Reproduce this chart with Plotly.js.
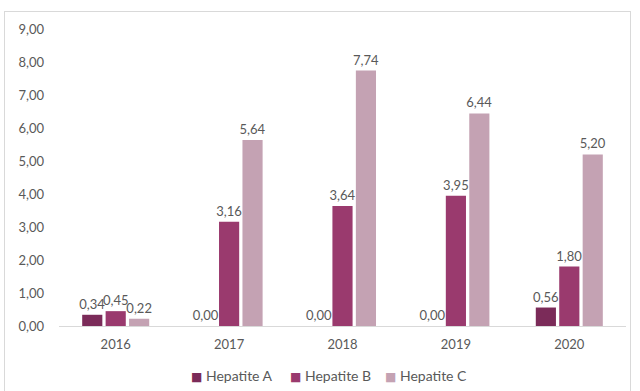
<!DOCTYPE html>
<html>
<head>
<meta charset="utf-8">
<script src="https://cdn.plot.ly/plotly-3.0.1.min.js"></script>
<style>
  html, body { margin: 0; padding: 0; background: #fff; }
  #frame { position: absolute; left: 4px; top: 11px; width: 627px; height: 400px; border: 1px solid #d9d9d9; box-sizing: border-box; }
  #chart { position: absolute; left: 0; top: 0; width: 640px; height: 391px; }
</style>
</head>
<body>
<div id="frame"></div>
<div id="chart"></div>
<script>
const years = ['2016', '2017', '2018', '2019', '2020'];
const seriesNames = ['Hepatite A', 'Hepatite B', 'Hepatite C'];
const hepatiteA = [0.34, 0.00, 0.00, 0.00, 0.56];
const hepatiteB = [0.45, 3.16, 3.64, 3.95, 1.80];
const hepatiteC = [0.22, 5.64, 7.74, 6.44, 5.20];
const yTicks = [0, 1, 2, 3, 4, 5, 6, 7, 8, 9];

const colors = ['#7b2b59', '#9a3a6e', '#c4a2b3'];
const labelFont = { family: 'Lato, "Open Sans", sans-serif', size: 13, color: '#595959' };
const fmt = v => v.toFixed(2).replace('.', ',');

function series(name, values, color) {
  return {
    type: 'bar', name: name, x: years, y: values,
    marker: { color: color },
    text: values.map(fmt),
    textposition: 'outside', cliponaxis: false, constraintext: 'none',
    textfont: labelFont, outsidetextfont: labelFont, insidetextfont: labelFont,
    hoverinfo: 'x+y+name'
  };
}

const data = [
  series(seriesNames[0], hepatiteA, colors[0]),
  series(seriesNames[1], hepatiteB, colors[1]),
  series(seriesNames[2], hepatiteC, colors[2])
];

// compact legend row below the axis, one entry per series
const legendX = [0.305, 0.478, 0.648];
const legendEntries = seriesNames.map((name, i) => ({
  xref: 'paper', yref: 'paper', x: legendX[i], y: -0.165,
  xanchor: 'center', yanchor: 'middle', showarrow: false,
  text: '<span style="color:' + colors[i] + ';font-family:\'DejaVu Sans\';font-size:12px">■</span> ' + name,
  font: { family: labelFont.family, size: 14, color: '#595959' }
}));

const layout = {
  width: 640, height: 391,
  margin: { l: 59, r: 14, t: 29, b: 65, autoexpand: false },
  paper_bgcolor: 'rgba(0,0,0,0)', plot_bgcolor: 'rgba(0,0,0,0)',
  barmode: 'group', bargap: 0.38, bargroupgap: 0.14,
  showlegend: false,
  annotations: legendEntries,
  xaxis: { type: 'category', showgrid: false, showline: true, linecolor: '#d9d9d9', linewidth: 1,
           ticks: '', tickfont: labelFont, zeroline: false, ticklabelstandoff: 6 },
  yaxis: { range: [0, 9], tickvals: yTicks, ticktext: yTicks.map(fmt),
           showgrid: false, zeroline: false, showline: false, ticks: '', tickfont: labelFont,
           ticklabelstandoff: 14 },
  font: labelFont
};

Plotly.newPlot('chart', data, layout, { displayModeBar: false, staticPlot: true });
</script>
</body>
</html>
